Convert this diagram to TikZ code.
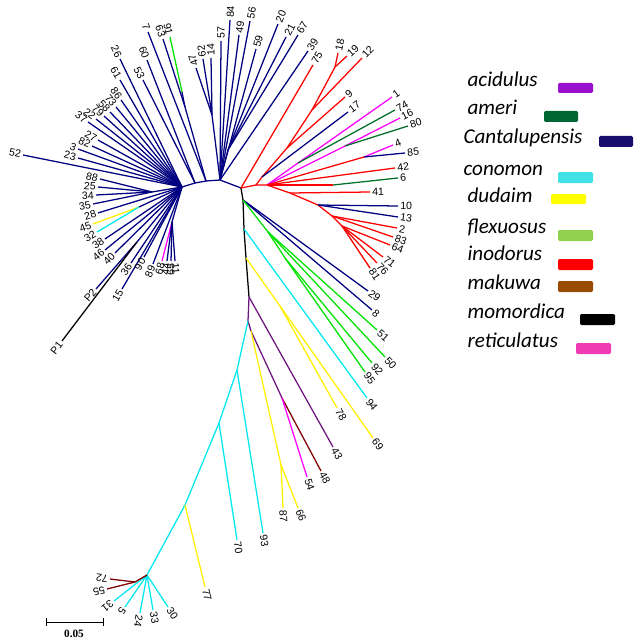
\documentclass[tikz,border=0pt]{standalone}
\usepackage{fontspec}
\newfontfamily\labfont{Liberation Sans}
\newfontfamily\keyfont{Carlito}
\newfontfamily\barfont{Liberation Serif}

% branch colours
\definecolor{cant}{RGB}{0,0,128}
\definecolor{inod}{RGB}{255,0,0}
\definecolor{reti}{RGB}{255,0,255}
\definecolor{ameri}{RGB}{0,110,40}
\definecolor{flex}{RGB}{0,225,0}
\definecolor{cono}{RGB}{0,232,240}
\definecolor{duda}{RGB}{255,240,0}
\definecolor{acid}{RGB}{112,20,128}
\definecolor{maku}{RGB}{128,0,0}
\definecolor{momo}{RGB}{0,0,0}

% legend colours
\definecolor{acidkey}{RGB}{153,17,204}
\definecolor{amerikey}{RGB}{0,102,51}
\definecolor{cantkey}{RGB}{26,13,110}
\definecolor{conokey}{RGB}{64,226,230}
\definecolor{dudakey}{RGB}{255,255,0}
\definecolor{flexkey}{RGB}{146,208,80}
\definecolor{inodkey}{RGB}{255,0,0}
\definecolor{makukey}{RGB}{153,76,0}
\definecolor{momokey}{RGB}{0,0,0}
\definecolor{retikey}{RGB}{240,60,180}

\begin{document}
\begin{tikzpicture}[x = 0.25mm, y = -0.25mm, line width = 0.9pt,
	lab/.style = {font = \labfont\fontsize{7.5}{8}\selectfont, pos = 1, sloped, inner sep = 1.2pt, text = black},
	lt/.style = {lab, anchor = east},
	rt/.style = {lab, anchor = west},
	ud/.style = {lab, anchor = west, allow upside down},
	key/.style = {font = \keyfont\itshape\fontsize{15}{18}\selectfont, anchor = base west, inner sep = 0pt},
	swatch/.style = {rounded corners = 1pt}]

	\useasboundingbox (0, 0) rectangle (638, 641);

	% Backbone
	
	\coordinate (A) at (182, 187);
	\coordinate (B) at (195, 183);
	\coordinate (C) at (206, 181);
	\coordinate (D) at (220, 180);
	\coordinate (E) at (241, 188);
	\draw [cant] (A) -- (B) -- (C) -- (D) -- (E);
	
	\coordinate (K1) at (243, 200);
	\coordinate (K2) at (244, 229);
	\coordinate (K3) at (246, 258);
	\coordinate (N1) at (249, 297);
	\draw [momo] (E) -- (K1) -- (K2) -- (K3) -- (N1);
	
	% Upper fan
	
	\coordinate (U2) at (212, 115);
	\coordinate (U3) at (228, 150);
	\draw [cant] (D) -- (U2);
	\draw [cant] (U2) -- node [ud] (l47) {47} (196, 68) coordinate (t47);
	\draw [cant] (U2) -- node [ud] (l62) {62} (203, 59) coordinate (t62);
	\draw [cant] (U2) -- node [ud] (l14) {14} (211, 58) coordinate (t14);
	\draw [cant] (D) -- node [rt] (l57) {57} (221, 41) coordinate (t57);
	\draw [cant] (D) -- node [rt] (l84) {84} (230, 20) coordinate (t84);
	\draw [cant] (D) -- node [rt] (l49) {49} (239, 35) coordinate (t49);
	\draw [cant] (D) -- node [rt] (l56) {56} (250, 21) coordinate (t56);
	\draw [cant] (D) -- node [rt] (l59) {59} (256, 49) coordinate (t59);
	\draw [cant] (D) -- (U3);
	\draw [cant] (U3) -- node [rt] (l20) {20} (278, 24) coordinate (t20);
	\draw [cant] (U3) -- node [rt] (l21) {21} (286, 37) coordinate (t21);
	\draw [cant] (U3) -- node [rt] (l67) {67} (298, 35) coordinate (t67);
	\draw [cant] (D) -- node [rt] (l39) {39} (308, 51) coordinate (t39);
	
	% Upper left fan
	
	\coordinate (V) at (185, 107);
	\coordinate (g91) at (182, 92);
	\draw [cant] (C) -- (V) -- node [lt] (l63) {63} (163, 39) coordinate (t63);
	\draw [cant] (V) -- (g91);
	\draw [flex] (g91) -- node [lt] (l91) {91} (170, 37) coordinate (t91);
	\draw [cant] (C) -- node [lt] (l7) {7} (148, 32) coordinate (t7);
	\draw [cant] (B) -- node [lt] (l60) {60} (147, 60) coordinate (t60);
	\draw [cant] (B) -- node [lt] (l53) {53} (143, 80) coordinate (t53);
	\draw [cant] (A) -- node [lt] (l26) {26} (120, 59) coordinate (t26);
	\draw [cant] (A) -- node [lt] (l61) {61} (120, 80) coordinate (t61);
	\draw [cant] (A) -- node [lt] (l86) {86} (121, 100) coordinate (t86);
	\draw [cant] (A) -- node [lt] (l73) {73} (116, 107) coordinate (t73);
	\draw [cant] (A) -- node [lt] (l58) {58} (110, 112) coordinate (t58);
	\draw [cant] (A) -- node [lt] (l79) {79} (104, 116) coordinate (t79);
	\draw [cant] (A) -- node [lt] (l22) {22} (96, 119) coordinate (t22);
	\draw [cant] (A) -- node [lt] (l37) {37} (88, 122) coordinate (t37);
	\draw [cant] (A) -- node [lt] (l27) {27} (98, 140) coordinate (t27);
	\draw [cant] (A) -- node [lt] (l82) {82} (92, 146) coordinate (t82);
	\draw [cant] (A) -- node [lt] (l3) {3} (78, 149) coordinate (t3);
	\draw [cant] (A) -- node [lt] (l23) {23} (78, 158) coordinate (t23);
	\draw [cant] (A) -- node [lt] (l52) {52} (23, 155) coordinate (t52);
	
	% Lower left fan
	
	\coordinate (L1) at (152, 192);
	\coordinate (L2) at (139, 207);
	\coordinate (W) at (137, 242);
	\coordinate (X) at (172, 222);
	\draw [cant] (A) -- (L1);
	\draw [cant] (L1) -- node [lt] (l88) {88} (100, 179) coordinate (t88);
	\draw [cant] (L1) -- node [lt] (l25) {25} (98, 187) coordinate (t25);
	\draw [cant] (L1) -- node [lt] (l34) {34} (96, 195) coordinate (t34);
	\draw [cant] (L1) -- node [lt] (l35) {35} (93, 204) coordinate (t35);
	\draw [cant] (A) -- node [lt] (l28) {28} (98, 213) coordinate (t28);
	\draw [cant] (A) -- (L2);
	\draw [duda] (L2) -- node [lt] (l45) {45} (93, 224) coordinate (t45);
	\draw [cono] (L2) -- node [lt] (l32) {32} (97, 232) coordinate (t32);
	\draw [cant] (A) -- node [lt] (l38) {38} (105, 239) coordinate (t38);
	\draw [cant] (A) -- node [lt] (l46) {46} (105, 250) coordinate (t46);
	\draw [cant] (A) -- node [lt] (l40) {40} (115, 253) coordinate (t40);
	\draw [cant] (A) -- (W) -- node [lt] (lP2) {P2} (96, 289) coordinate (tP2);
	\draw [momo] (W) -- node [lt] (lP1) {P1} (62, 341) coordinate (tP1);
	\draw [cant] (A) -- node [lt] (l36) {36} (131, 263) coordinate (t36);
	\draw [cant] (A) -- node [lt] (l15) {15} (122, 289) coordinate (t15);
	\draw [cant] (A) -- node [lt] (l90) {90} (144, 257) coordinate (t90);
	\draw [cant] (A) -- node [lt] (l89) {89} (153, 264) coordinate (t89);
	\draw [cant] (A) -- (X);
	\draw [reti] (X) -- node [lt] (l68) {68} (162, 261) coordinate (t68);
	\draw [cant] (X) -- node [lt] (l44) {44} (167, 261) coordinate (t44);
	\draw [cant] (X) -- node [lt] (l65) {65} (171, 261) coordinate (t65);
	\draw [cant] (X) -- node [rt] (l11) {11} (175, 261) coordinate (t11);
	
	% Red cluster
	
	\coordinate (S1) at (256, 185);
	\coordinate (S2) at (267, 185);
	\coordinate (S3) at (290, 193);
	\coordinate (S4) at (318, 205);
	\coordinate (S5) at (332, 216);
	\coordinate (S6) at (342, 226);
	\coordinate (R1) at (262, 177);
	\coordinate (R2) at (287, 148);
	\coordinate (R3) at (312, 110);
	\coordinate (R4) at (335, 67);
	\draw [inod] (E) -- (S1) -- (S2) -- (S3) -- (S4) -- (S5) -- (S6);
	\draw [inod] (E) -- node [rt] (l75) {75} (313, 65) coordinate (t75);
	\draw [inod] (S1) -- (R1) -- (R2) -- (R3) -- (R4);
	\draw [inod] (R4) -- node [rt] (l18) {18} (338, 53) coordinate (t18);
	\draw [inod] (R4) -- node [rt] (l19) {19} (347, 56) coordinate (t19);
	\draw [inod] (R3) -- node [rt] (l12) {12} (362, 58) coordinate (t12);
	\draw [inod] (R2) -- node [rt] (l9) {9} (345, 97) coordinate (t9);
	\draw [cant] (R1) -- node [rt] (l17) {17} (348, 112) coordinate (t17);
	
	\coordinate (M1) at (298, 163);
	\coordinate (M2) at (345, 146);
	\coordinate (H) at (364, 157);
	\coordinate (Q) at (333, 185);
	\draw [reti] (S2) -- (M1) -- node [rt] (l1) {1} (392, 97) coordinate (t1);
	\draw [ameri] (M1) -- node [rt] (l74) {74} (395, 110) coordinate (t74);
	\draw [reti] (S2) -- (M2) -- node [rt] (l16) {16} (400, 118) coordinate (t16);
	\draw [ameri] (M2) -- node [rt] (l80) {80} (408, 126) coordinate (t80);
	\draw [inod] (S2) -- (H);
	\draw [reti] (H) -- node [rt] (l4) {4} (393, 145) coordinate (t4);
	\draw [cant] (H) -- node [rt] (l85) {85} (405, 153) coordinate (t85);
	\draw [inod] (S2) -- node [rt] (l42) {42} (395, 168) coordinate (t42);
	\draw [inod] (S2) -- (Q);
	\draw [ameri] (Q) -- node [rt] (l6) {6} (398, 178) coordinate (t6);
	\draw [inod] (S3) -- node [rt] (l41) {41} (370, 192) coordinate (t41);
	\draw [cant] (S4) -- node [rt] (l10) {10} (398, 206) coordinate (t10);
	\draw [cant] (S4) -- node [rt] (l13) {13} (398, 217) coordinate (t13);
	\draw [inod] (S5) -- node [rt] (l2) {2} (397, 228) coordinate (t2);
	\draw [inod] (S5) -- node [rt] (l83) {83} (393, 237) coordinate (t83);
	\draw [inod] (S6) -- node [rt] (l64) {64} (390, 245) coordinate (t64);
	\draw [inod] (S6) -- node [rt] (l71) {71} (383, 257) coordinate (t71);
	\draw [inod] (S6) -- node [rt] (l76) {76} (377, 263) coordinate (t76);
	\draw [inod] (S6) -- node [rt] (l81) {81} (370, 268) coordinate (t81);
	
	% Branches off the black spine
	
	\coordinate (G1) at (268, 232);
	\coordinate (G2) at (285, 258);
	\coordinate (Y1) at (280, 306);
	\draw [cant] (K1) -- node [rt] (l29) {29} (368, 291) coordinate (t29);
	\draw [cant] (K1) -- node [rt] (l8) {8} (372, 310) coordinate (t8);
	\draw [flex] (K1) -- (G1);
	\draw [flex] (G1) -- node [rt] (l51) {51} (377, 330) coordinate (t51);
	\draw [flex] (G1) -- node [rt] (l50) {50} (385, 357) coordinate (t50);
	\draw [flex] (G1) -- (G2);
	\draw [flex] (G2) -- node [rt] (l92) {92} (372, 363) coordinate (t92);
	\draw [flex] (G2) -- node [rt] (l95) {95} (365, 372) coordinate (t95);
	\draw [cono] (K2) -- node [rt] (l94) {94} (367, 398) coordinate (t94);
	\draw [duda] (K3) -- (Y1) -- node [rt] (l69) {69} (373, 438) coordinate (t69);
	\draw [duda] (Y1) -- node [rt] (l78) {78} (337, 408) coordinate (t78);
	
	% Lower clade
	
	\coordinate (N2) at (248, 321);
	\coordinate (N3) at (251, 331);
	\coordinate (N4) at (281, 465);
	\coordinate (N5) at (282, 398);
	\draw [acid] (N1) -- node [rt] (l43) {43} (333, 447) coordinate (t43);
	\draw [acid] (N1) -- (N2) -- (N3) -- (N5);
	\draw [maku] (N5) -- node [rt] (l48) {48} (321, 471) coordinate (t48);
	\draw [reti] (N5) -- node [rt] (l54) {54} (307, 477) coordinate (t54);
	\draw [duda] (N3) -- (N4);
	\draw [duda] (N4) -- node [rt] (l87) {87} (283, 508) coordinate (t87);
	\draw [duda] (N4) -- node [rt] (l66) {66} (298, 508) coordinate (t66);
	
	\coordinate (N6) at (237, 370);
	\coordinate (N7) at (219, 423);
	\coordinate (N8) at (185, 505);
	\coordinate (N9) at (147, 575);
	\coordinate (N10) at (135, 582);
	\draw [cono] (N2) -- (N6) -- (N7) -- (N8) -- (N9);
	\draw [cono] (N6) -- node [rt] (l93) {93} (263, 533) coordinate (t93);
	\draw [cono] (N7) -- node [rt] (l70) {70} (237, 540) coordinate (t70);
	\draw [duda] (N8) -- node [rt] (l77) {77} (205, 587) coordinate (t77);
	\draw [cono] (N9) -- node [ud] (l31) {31} (114, 601) coordinate (t31);
	\draw [cono] (N9) -- node [ud] (l5) {5} (125, 607) coordinate (t5);
	\draw [cono] (N9) -- node [ud] (l24) {24} (140, 613) coordinate (t24);
	\draw [cono] (N9) -- node [rt] (l33) {33} (153, 610) coordinate (t33);
	\draw [cono] (N9) -- node [rt] (l30) {30} (168, 607) coordinate (t30);
	\draw [maku] (N9) -- (N10);
	\draw [maku] (N10) -- node [ud] (l72) {72} (110, 579) coordinate (t72);
	\draw [maku] (N10) -- node [ud] (l55) {55} (107, 589) coordinate (t55);
	
	% Scale bar
	
	\draw [line width = 0.6pt] (46, 622) coordinate (sb0) -- (103, 622) coordinate (sb1);
	\draw [line width = 0.6pt] (46, 618) -- (46, 626);
	\draw [line width = 0.6pt] (103, 618) -- (103, 626);
	\node [font = \barfont\bfseries\fontsize{8}{9}\selectfont] (sbl) at (74, 634) {0.05};
	
	% Legend
	
	\node [key] (kacid) at (467, 87) {acidulus};
	\node [key] (kameri) at (467, 115) {ameri};
	\node [key] (kcant) at (463, 144) {Cantalupensis};
	\node [key] (kcono) at (463, 176) {conomon};
	\node [key] (kduda) at (467, 202) {dudaim};
	\node [key] (kflex) at (467, 233) {flexuosus};
	\node [key] (kinod) at (467, 260) {inodorus};
	\node [key] (kmaku) at (467, 289) {makuwa};
	\node [key] (kmomo) at (467, 318) {momordica};
	\node [key] (kreti) at (467, 347) {reticulatus};
	
	\fill [swatch, acidkey] (558, 83) rectangle (593, 93);
	\fill [swatch, amerikey] (544, 111) rectangle (578, 122);
	\fill [swatch, cantkey] (599, 136) rectangle (633, 147);
	\fill [swatch, conokey] (558, 172) rectangle (593, 183);
	\fill [swatch, dudakey] (551, 194) rectangle (586, 204);
	\fill [swatch, flexkey] (558, 230) rectangle (593, 241);
	\fill [swatch, inodkey] (558, 259) rectangle (593, 270);
	\fill [swatch, makukey] (558, 281) rectangle (593, 292);
	\fill [swatch, momokey] (580, 314) rectangle (615, 325);
	\fill [swatch, retikey] (576, 343) rectangle (611, 354);
	
\end{tikzpicture}
\end{document}
